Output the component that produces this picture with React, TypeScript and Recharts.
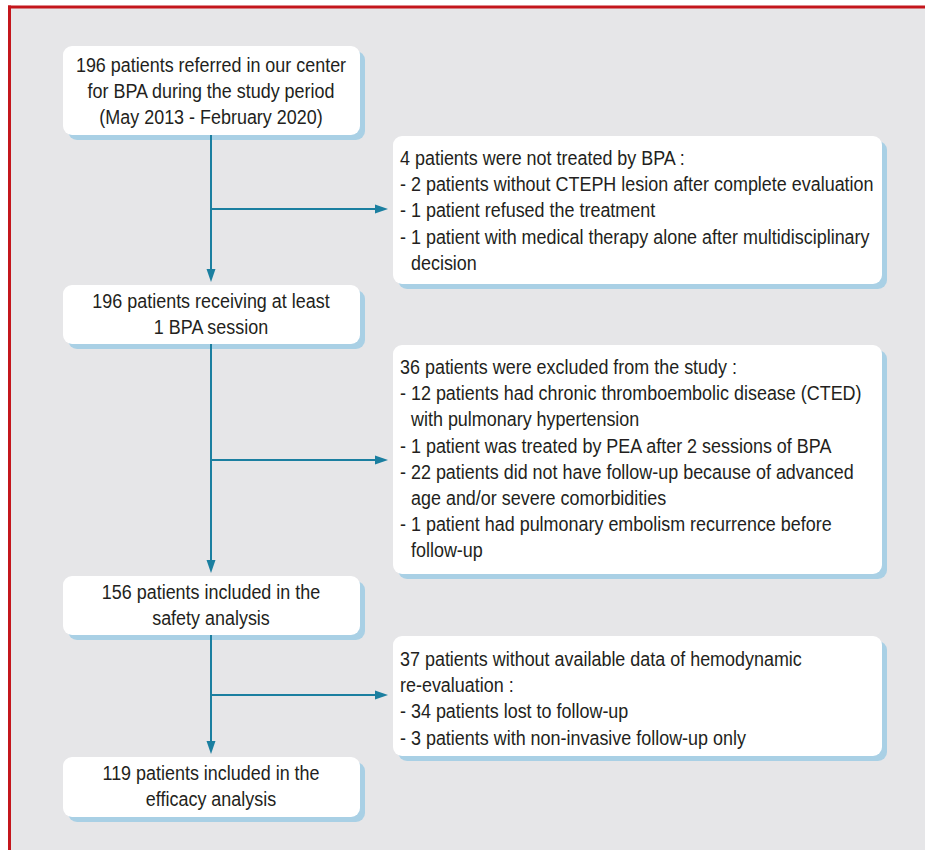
import React from 'react';
import { ScatterChart, XAxis, YAxis, ReferenceArea, ReferenceLine, Scatter } from 'recharts';

const W = 925;
const H = 850;

// ---- text content ----
const mainSteps: string[][] = [
  ['196 patients referred in our center', 'for BPA during the study period', '(May 2013 - February 2020)'],
  ['196 patients receiving at least', '1 BPA session'],
  ['156 patients included in the', 'safety analysis'],
  ['119 patients included in the', 'efficacy analysis'],
];

const exclusions: string[][] = [
  [
    '4 patients were not treated by BPA :',
    '- 2 patients without CTEPH lesion after complete evaluation',
    '- 1 patient refused the treatment',
    '- 1 patient with medical therapy alone after multidisciplinary',
    '  decision',
  ],
  [
    '36 patients were excluded from the study :',
    '- 12 patients had chronic thromboembolic disease (CTED)',
    '  with pulmonary hypertension',
    '- 1 patient was treated by PEA after 2 sessions of BPA',
    '- 22 patients did not have follow-up because of advanced',
    '  age and/or severe comorbidities',
    '- 1 patient had pulmonary embolism recurrence before',
    '  follow-up',
  ],
  [
    '37 patients without available data of hemodynamic',
    're-evaluation :',
    '- 34 patients lost to follow-up',
    '- 3 patients with non-invasive follow-up only',
  ],
];

// ---- layout (diagram units = chart domain) ----
const mainBoxY: [number, number][] = [
  [46, 135],
  [285, 344],
  [576, 635],
  [757, 817],
];
const mainBoxX: [number, number] = [63, 360];
const sideBoxY: [number, number][] = [
  [136, 284],
  [345, 574],
  [636, 756],
];
const sideBoxX: [number, number] = [393, 882];
const spineX = 211;
const branchY = [209, 460, 695];
const mainFirstBaseline = [72, 308, 599, 780];
const sideFirstBaseline = [165, 374, 666];
const sideTextX = 400;

const LINE_H = 26.2;
const SQUEEZE = 0.855;
const TEAL = '#1b7fa0';
const FONT = "'Liberation Sans', Arial, Helvetica, sans-serif";

const textPoints = [
  ...mainSteps.map((lines, i) => ({ x: spineX, y: mainFirstBaseline[i], lines, anchor: 'middle' })),
  ...exclusions.map((lines, i) => ({ x: sideTextX, y: sideFirstBaseline[i], lines, anchor: 'start' })),
];

const arrowHeads = [
  ...mainBoxY.slice(1).map(([top]) => ({ x: spineX, y: top - 3, dir: 'down' })),
  ...branchY.map((y) => ({ x: sideBoxX[0] - 5, y, dir: 'right' })),
];

const BoxShape = (p: any) => {
  const { x, y, width, height } = p;
  return (
    <g>
      <rect x={x + 5} y={y + 5} width={width} height={height} rx={9} ry={9} fill="#a9d0e5" />
      <rect x={x} y={y} width={width} height={height} rx={9} ry={9} fill="#ffffff" />
    </g>
  );
};

const TextShape = (p: any) => {
  const { cx, cy, payload } = p;
  return (
    <g transform={`translate(${cx},${cy}) scale(${SQUEEZE},1)`}>
      <text x={0} y={0} textAnchor={payload.anchor} fontFamily={FONT} fontSize={21} fill="#231f20">
        {payload.lines.map((ln: string, i: number) => {
          const indent = ln.startsWith('  ');
          return (
            <tspan key={i} x={indent ? 11 / SQUEEZE : 0} y={i * LINE_H}>
              {ln.trim()}
            </tspan>
          );
        })}
      </text>
    </g>
  );
};

const ArrowShape = (p: any) => {
  const { cx, cy, payload } = p;
  const d =
    payload.dir === 'down'
      ? `M${cx - 4.5},${cy - 13} L${cx + 4.5},${cy - 13} L${cx},${cy} Z`
      : `M${cx - 13},${cy - 4.5} L${cx - 13},${cy + 4.5} L${cx},${cy} Z`;
  return <path d={d} fill={TEAL} />;
};

export default function App() {
  return (
    <div style={{ position: 'absolute', left: 0, top: 0, width: W, height: H, background: '#ffffff' }}>
      <ScatterChart width={W} height={H} margin={{ top: 0, right: 0, bottom: 0, left: 0 }}>
        <XAxis type="number" dataKey="x" domain={[0, W]} hide allowDataOverflow />
        <YAxis type="number" dataKey="y" domain={[0, H]} reversed hide allowDataOverflow />

        <ReferenceArea x1={9} x2={W} y1={7} y2={H} fill="#e6e6e8" fillOpacity={1} stroke="none" />
        <ReferenceLine segment={[{ x: 9.5, y: 5.5 }, { x: 9.5, y: H }]} stroke="#c4161c" strokeWidth={3} />
        <ReferenceLine segment={[{ x: 8, y: 7 }, { x: W, y: 7 }]} stroke="#c4161c" strokeWidth={3} />

        {mainBoxY.map(([y1, y2], i) => (
          <ReferenceArea key={'m' + i} x1={mainBoxX[0]} x2={mainBoxX[1]} y1={y1} y2={y2} shape={BoxShape} />
        ))}
        {sideBoxY.map(([y1, y2], i) => (
          <ReferenceArea key={'s' + i} x1={sideBoxX[0]} x2={sideBoxX[1]} y1={y1} y2={y2} shape={BoxShape} />
        ))}

        {mainBoxY.slice(0, -1).map(([, bottom], i) => (
          <ReferenceLine
            key={'v' + i}
            segment={[{ x: spineX, y: bottom }, { x: spineX, y: mainBoxY[i + 1][0] - 8 }]}
            stroke={TEAL}
            strokeWidth={2}
          />
        ))}
        {branchY.map((y, i) => (
          <ReferenceLine
            key={'h' + i}
            segment={[{ x: spineX, y }, { x: sideBoxX[0] - 12, y }]}
            stroke={TEAL}
            strokeWidth={2}
          />
        ))}

        <Scatter data={arrowHeads} shape={ArrowShape} isAnimationActive={false} />
        <Scatter data={textPoints} shape={TextShape} isAnimationActive={false} />
      </ScatterChart>
    </div>
  );
}
